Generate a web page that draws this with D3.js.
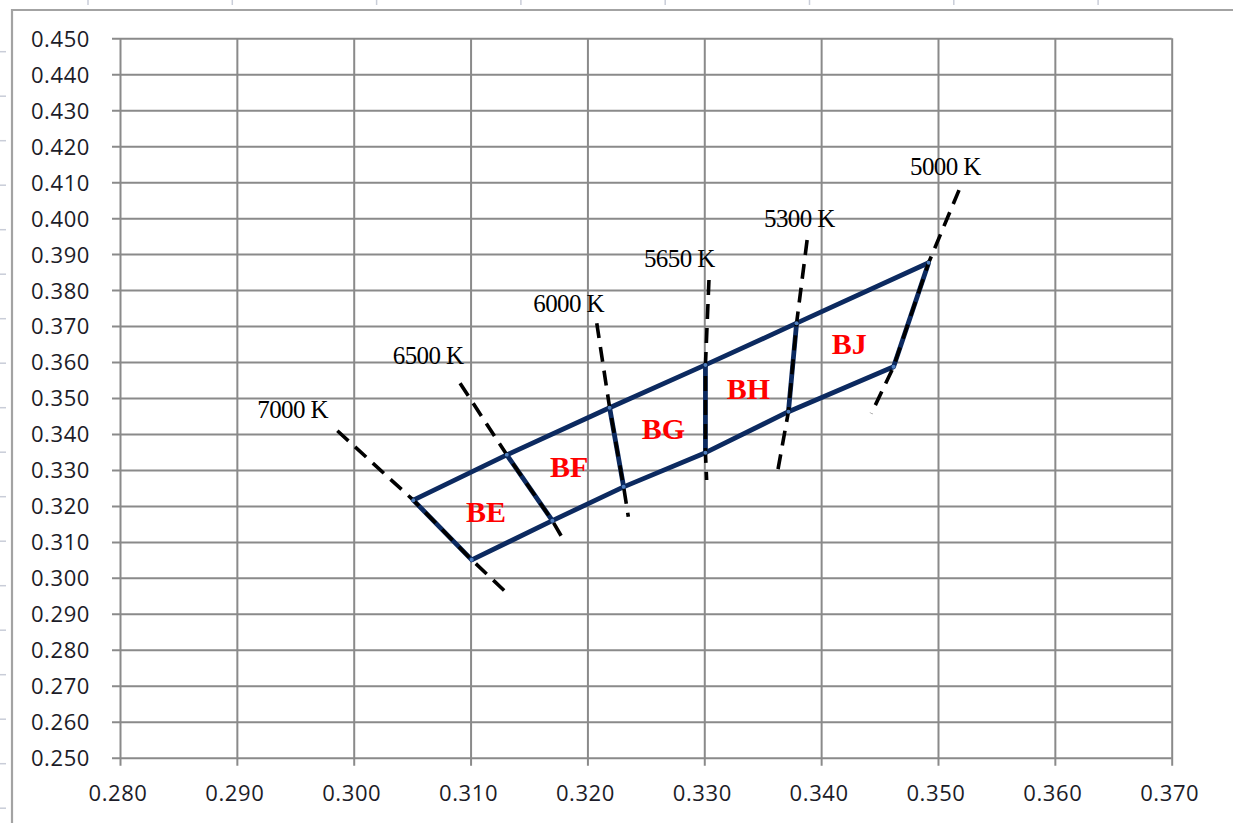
<!DOCTYPE html>
<html>
<head>
<meta charset="utf-8">
<script src="https://cdn.jsdelivr.net/npm/d3@7"></script>
<style>
  html, body { margin: 0; padding: 0; background: #fff; }
  svg { display: block; }
</style>
</head>
<body>
<svg id="chart" width="1233" height="823"></svg>
<script>
// ---- data ----
const xTicks = [0.280, 0.290, 0.300, 0.310, 0.320, 0.330, 0.340, 0.350, 0.360, 0.370];
const yTicks = [0.250, 0.260, 0.270, 0.280, 0.290, 0.300, 0.310, 0.320, 0.330, 0.340,
                0.350, 0.360, 0.370, 0.380, 0.390, 0.400, 0.410, 0.420, 0.430, 0.440, 0.450];

const cctLabels = ["7000 K", "6500 K", "6000 K", "5650 K", "5300 K", "5000 K"];
// quadrangle corner points along upper and lower boundary (one per CCT line)
const topX = [0.3051, 0.3131, 0.3219, 0.3301, 0.3379, 0.3492];
const topY = [0.3216, 0.3342, 0.3473, 0.3592, 0.3708, 0.3876];
const botX = [0.3101, 0.3170, 0.3231, 0.3301, 0.3372, 0.3462];
const botY = [0.3050, 0.3159, 0.3253, 0.3348, 0.3462, 0.3587];
// dashed isotemperature line ends
const dashStartX = [0.2986, 0.3091, 0.3208, 0.3304, 0.3388, 0.3518];
const dashStartY = [0.3409, 0.3541, 0.3708, 0.3828, 0.3939, 0.4078];
const dashEndX   = [0.3129, 0.3178, 0.3235, 0.3302, 0.3363, 0.3443];
const dashEndY   = [0.2964, 0.3114, 0.3170, 0.3272, 0.3300, 0.3457];
// CCT label anchors (data units)
const cctLabelX = [0.29175, 0.30334, 0.31537, 0.32484, 0.33511, 0.34761];
const cctLabelY = [0.34452, 0.35937, 0.37382, 0.38650, 0.39746, 0.41200];
// bin names and anchors
const binNames = ["BE", "BF", "BG", "BH", "BJ"];
const binX = [0.30961, 0.31680, 0.32465, 0.33192, 0.34091];
const binY = [0.31561, 0.32795, 0.33852, 0.34972, 0.36215];

// ---- layout ----
const svg = d3.select("#chart");
const L = 120, R = 1171.7, T = 38.3, B = 757.7;
const x = d3.scaleLinear().domain([0.28, 0.37]).range([L, R]);
const y = d3.scaleLinear().domain([0.25, 0.45]).range([B, T]);
const fmt = d3.format(".3f");
const gridColor = "#8a8a8a";

// spreadsheet backdrop artifacts
svg.append("rect").attr("width", 1233).attr("height", 823).attr("fill", "#fff");
const colMarks = d3.range(0, 8).map(i => 88 + i * 144.3);
svg.selectAll("line.colmark").data(colMarks).join("line")
  .attr("x1", d => d).attr("x2", d => d).attr("y1", 0).attr("y2", 5)
  .attr("stroke", "#c9cdd8").attr("stroke-width", 1.5);
const rowMarks = d3.range(0, 18).map(i => 51.7 + i * 44.5);
svg.selectAll("line.rowmark").data(rowMarks).join("line")
  .attr("x1", 0).attr("x2", 6).attr("y1", d => d).attr("y2", d => d)
  .attr("stroke", "#c9cdd8").attr("stroke-width", 1.5);
// chart frame
svg.append("path").attr("d", "M12,823 L12,10 L1233,10")
  .attr("fill", "none").attr("stroke", "#a3a3a3").attr("stroke-width", 2.2);

// ---- axes / grid ----
const gx = svg.append("g").attr("transform", `translate(0,${T})`)
  .call(d3.axisBottom(x).tickValues(xTicks).tickFormat(fmt).tickSize(B - T + 8).tickPadding(0));
const gy = svg.append("g").attr("transform", `translate(${R},0)`)
  .call(d3.axisLeft(y).tickValues(yTicks).tickFormat(fmt).tickSize(R - L + 8).tickPadding(0));
[gx, gy].forEach(g => {
  g.select(".domain").remove();
  g.selectAll(".tick line").attr("stroke", gridColor).attr("stroke-width", 2);
  g.selectAll(".tick text")
    .attr("fill", "#1c1c28")
    .style("font-family", "'Open Sans', sans-serif")
    .style("font-size", "22px")
    .style("letter-spacing", "0.6px");
});
gx.selectAll(".tick text").attr("y", B - T + 8 + 35).attr("dy", null).attr("dx", -2.5);
gy.selectAll(".tick text").attr("x", -(R - L + 8 + 22)).attr("dy", "0.36em");

// ---- quadrangles ----
const navy = "#0c2a60";
const line = d3.line().x(d => x(d[0])).y(d => y(d[1]));
const topPts = topX.map((v, i) => [v, topY[i]]);
const botPts = botX.map((v, i) => [v, botY[i]]);
const gq = svg.append("g");
gq.append("path").attr("d", line(topPts)).attr("fill", "none")
  .attr("stroke", navy).attr("stroke-width", 4.8).attr("stroke-linejoin", "round");
gq.append("path").attr("d", line(botPts)).attr("fill", "none")
  .attr("stroke", navy).attr("stroke-width", 4.8).attr("stroke-linejoin", "round");
gq.selectAll("path.div").data(topPts.map((p, i) => [p, botPts[i]])).join("path")
  .attr("class", "div").attr("d", d => line(d)).attr("fill", "none")
  .attr("stroke", navy).attr("stroke-width", 4.8).attr("stroke-linecap", "round");

// ---- dashed isotemperature lines ----
const dashLines = cctLabels.map((c, i) => [
  [dashStartX[i], dashStartY[i]], topPts[i], botPts[i], [dashEndX[i], dashEndY[i]]
]);
svg.append("g").selectAll("path").data(dashLines).join("path")
  .attr("d", d => line(d)).attr("fill", "none")
  .attr("stroke", "#000").attr("stroke-width", 3.6)
  .attr("stroke-dasharray", "15,9");

// vertex markers
svg.append("g").selectAll("circle").data(topPts.concat(botPts)).join("circle")
  .attr("cx", d => x(d[0])).attr("cy", d => y(d[1])).attr("r", 2)
  .attr("fill", "#4f7fc0");

// ---- labels ----
svg.append("g").selectAll("text").data(cctLabels).join("text")
  .attr("x", (d, i) => x(cctLabelX[i])).attr("y", (d, i) => y(cctLabelY[i]))
  .text(d => d)
  .style("font-family", "'Liberation Serif', 'Times New Roman', serif")
  .style("font-size", "25px").style("letter-spacing", "-0.6px").attr("fill", "#000");

svg.append("g").selectAll("text").data(binNames).join("text")
  .attr("x", (d, i) => x(binX[i])).attr("y", (d, i) => y(binY[i]))
  .text(d => d)
  .style("font-family", "'Liberation Serif', 'Times New Roman', serif")
  .style("font-size", "30px").style("font-weight", "bold").attr("fill", "#ff0000");
</script>
</body>
</html>
